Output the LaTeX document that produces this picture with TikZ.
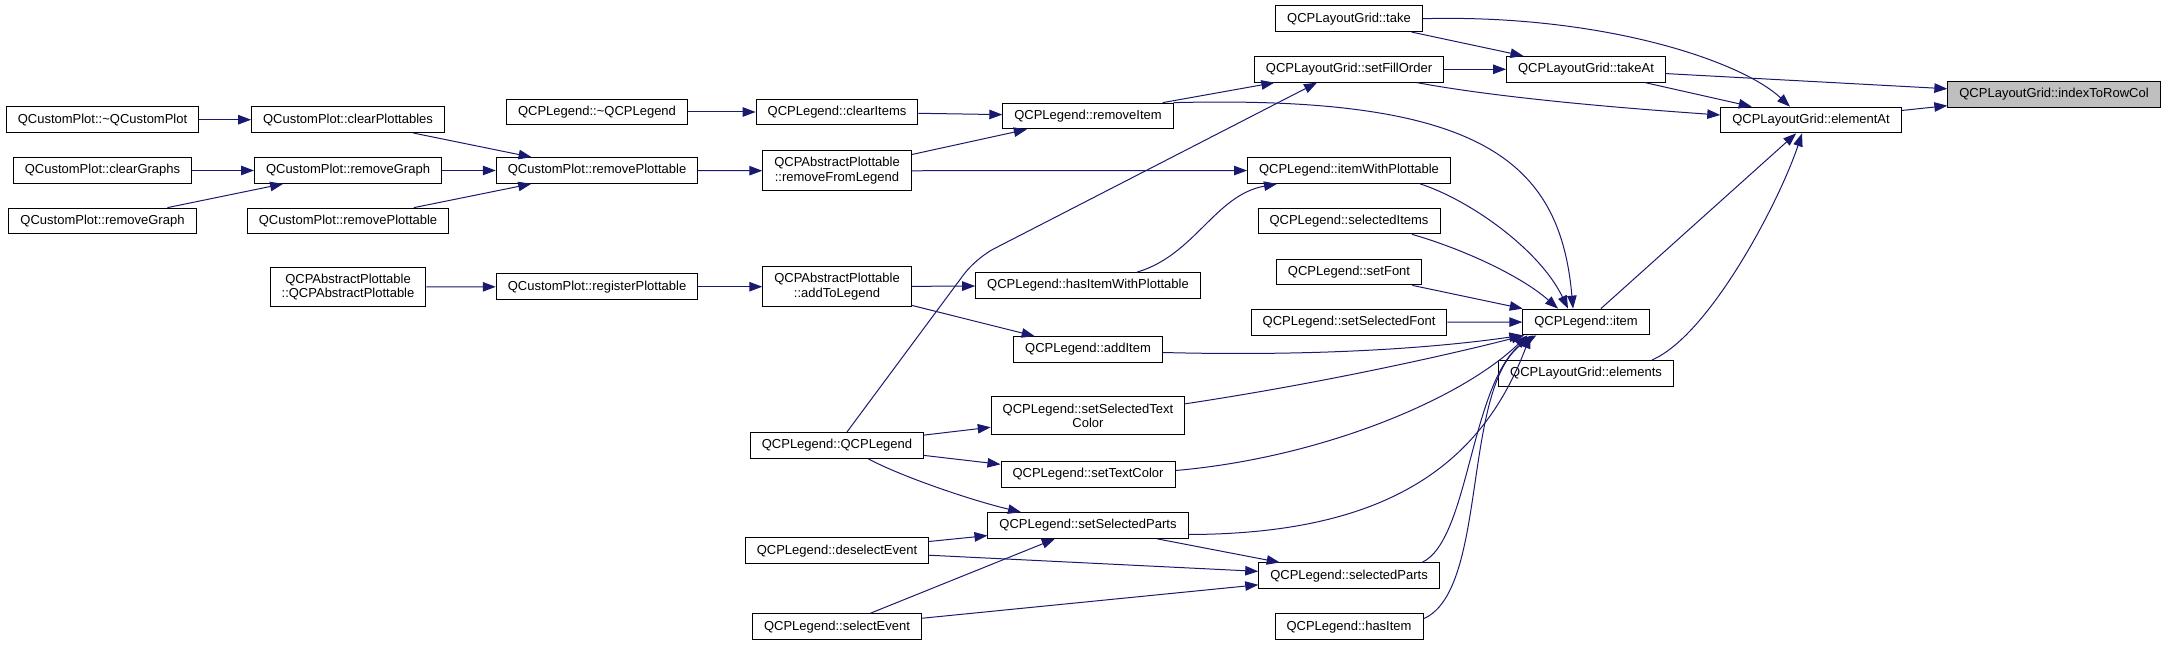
\documentclass[tikz,border=0pt]{standalone}
\usepackage{fontspec}
\setmainfont{Liberation Sans}
\usepackage{xcolor}
\usetikzlibrary{arrows.meta}
\definecolor{edgeblue}{HTML}{191970}
\definecolor{rootgray}{HTML}{BFBFBF}

\begin{document}
\begin{tikzpicture}[x=1bp,y=-1bp,>={Triangle[length=13bp,width=9.5bp]},
  func/.style={draw=black,line width=1bp,fill=white,inner xsep=11.5bp,inner ysep=6.8bp,
    minimum height=25.7bp,align=center,font=\fontsize{13bp}{14.5bp}\selectfont},
  calls/.style={->,draw=edgeblue,line width=1bp}]
 \useasboundingbox (0,0) rectangle (2165,645);
 \node[func,fill=rootgray] (irc) at (2054,94.5) {QCPLayoutGrid::indexToRowCol};
 \node[func] (elemAt) at (1811,120) {QCPLayoutGrid::elementAt};
 \node[func] (takeAt) at (1586,69.3) {QCPLayoutGrid::takeAt};
 \node[func] (item) at (1586,322) {QCPLegend::item};
 \node[func] (elements) at (1586,373.3) {QCPLayoutGrid::elements};
 \node[func] (take) at (1349,18.7) {QCPLayoutGrid::take};
 \node[func] (fillOrder) at (1349,69.3) {QCPLayoutGrid::setFillOrder};
 \node[func] (itemWP) at (1349,170.5) {QCPLegend::itemWithPlottable};
 \node[func] (selItems) at (1349,221) {QCPLegend::selectedItems};
 \node[func] (setFont) at (1349,272) {QCPLegend::setFont};
 \node[func] (selFont) at (1349,322.3) {QCPLegend::setSelectedFont};
 \node[func] (selParts) at (1349,575.8) {QCPLegend::selectedParts};
 \node[func] (hasItem) at (1349,626.7) {QCPLegend::hasItem};
 \node[func] (rmItem) at (1088,116) {QCPLegend::removeItem};
 \node[func] (hasItemWP) at (1088,285.5) {QCPLegend::hasItemWithPlottable};
 \node[func] (addItem) at (1088,349.5) {QCPLegend::addItem};
 \node[func] (selTextCol) at (1088,415.8) {QCPLegend::setSelectedText\\Color};
 \node[func] (textCol) at (1088,474.5) {QCPLegend::setTextColor};
 \node[func] (setSelParts) at (1088,525.5) {QCPLegend::setSelectedParts};
 \node[func] (clearItems) at (837,112) {QCPLegend::clearItems};
 \node[func] (rmFromLeg) at (837,170.8) {QCPAbstractPlottable\\::removeFromLegend};
 \node[func] (addToLeg) at (837,286.7) {QCPAbstractPlottable\\::addToLegend};
 \node[func] (legCtor) at (837,445.3) {QCPLegend::QCPLegend};
 \node[func] (deselEv) at (837,550.7) {QCPLegend::deselectEvent};
 \node[func] (selEv) at (837,626.7) {QCPLegend::selectEvent};
 \node[func] (legDtor) at (597,112) {QCPLegend::\textasciitilde QCPLegend};
 \node[func] (rmPlot) at (597,170.5) {QCustomPlot::removePlottable};
 \node[func] (regPlot) at (597,286.7) {QCustomPlot::registerPlottable};
 \node[func] (clearPlots) at (348,119.7) {QCustomPlot::clearPlottables};
 \node[func] (rmGraph) at (348,170.5) {QCustomPlot::removeGraph};
 \node[func] (rmPlotB) at (348,221) {QCustomPlot::removePlottable};
 \node[func] (apCtor) at (348,287) {QCPAbstractPlottable\\::QCPAbstractPlottable};
 \node[func] (cpDtor) at (102.5,119.7) {QCustomPlot::\textasciitilde QCustomPlot};
 \node[func] (clearGraphs) at (102.5,170.5) {QCustomPlot::clearGraphs};
 \node[func] (rmGraphB) at (102.5,221) {QCustomPlot::removeGraph};

 \draw[calls] (take) -- (takeAt);
 \draw[calls] (take.east) .. controls (1600,14) and (1740,60) .. ([xshift=-21bp]elemAt.north);
 \draw[calls] (fillOrder) -- (takeAt);
 \draw[calls] ([xshift=68bp]fillOrder.south) .. controls (1500,98) and (1620,108) .. ([yshift=5bp]elemAt.west);
 \draw[calls] (takeAt) -- (irc);
 \draw[calls] (takeAt) -- (elemAt);
 \draw[calls] (elemAt) -- (irc);
 \draw[calls] (item) -- (elemAt);
 \draw[calls] ([xshift=66bp]elements.north) .. controls (1710,335) and (1780,200) .. ([xshift=-9bp]elemAt.south);
 \draw[calls] (legDtor) -- (clearItems);
 \draw[calls] (clearItems) -- (rmItem);
 \draw[calls] (rmItem) -- (fillOrder);
 \draw[calls] (rmItem.north east) .. controls (1480,95) and (1560,160) .. ([xshift=-13bp]item.north);
 \draw[calls] (cpDtor) -- (clearPlots);
 \draw[calls] (clearPlots) -- (rmPlot);
 \draw[calls] (clearGraphs) -- (rmGraph);
 \draw[calls] (rmGraphB) -- (rmGraph);
 \draw[calls] (rmGraph) -- (rmPlot);
 \draw[calls] (rmPlotB) -- (rmPlot);
 \draw[calls] (rmPlot) -- (rmFromLeg);
 \draw[calls] (rmFromLeg) -- (rmItem);
 \draw[calls] (rmFromLeg) -- (itemWP);
 \draw[calls] ([xshift=71bp]itemWP.south) .. controls (1470,200) and (1540,250) .. ([xshift=-18bp]item.north);
 \draw[calls] ([xshift=63bp]selItems.south) .. controls (1460,248) and (1520,275) .. ([xshift=-28bp]item.north);
 \draw[calls] (setFont) -- (item);
 \draw[calls] (selFont) -- (item);
 \draw[calls] (apCtor) -- (regPlot);
 \draw[calls] (regPlot) -- (addToLeg);
 \draw[calls] (addToLeg) -- (hasItemWP);
 \draw[calls] (addToLeg) -- (addItem);
 \draw[calls] ([xshift=49bp]hasItemWP.north) .. controls (1195,255) and (1215,195) .. ([xshift=-72bp]itemWP.south);
 \draw[calls] ([yshift=-3bp]addItem.east) .. controls (1300,356) and (1420,350) .. (item.south west);
 \draw[calls,rounded corners=20bp] ([xshift=10bp]legCtor.north) -- (976,258) -- ([xshift=-32bp]fillOrder.south);
 \draw[calls] (legCtor) -- (selTextCol);
 \draw[calls] (legCtor) -- (textCol);
 \draw[calls] ([xshift=31bp]legCtor.south) .. controls (900,476) and (970,500) .. ([xshift=-67bp]setSelParts.north);
 \draw[calls] ([yshift=12bp]selTextCol.east) .. controls (1330,382) and (1460,352) .. ([xshift=2bp]item.south west);
 \draw[calls] ([yshift=4bp]textCol.east) .. controls (1320,458) and (1460,400) .. ([xshift=5bp]item.south west);
 \draw[calls] ([yshift=-9bp]setSelParts.east) .. controls (1380,534) and (1480,470) .. ([xshift=8bp]item.south west);
 \draw[calls] (setSelParts) -- (selParts);
 \draw[calls] ([xshift=73bp]selParts.north) .. controls (1470,540) and (1470,380) .. ([xshift=11bp]item.south west);
 \draw[calls] ([yshift=8bp]hasItem.east) .. controls (1490,590) and (1460,380) .. ([xshift=14bp]item.south west);
 \draw[calls] (deselEv) -- (setSelParts);
 \draw[calls] (deselEv) -- (selParts);
 \draw[calls] (selEv) -- (setSelParts);
 \draw[calls] (selEv) -- (selParts);
\end{tikzpicture}
\end{document}
